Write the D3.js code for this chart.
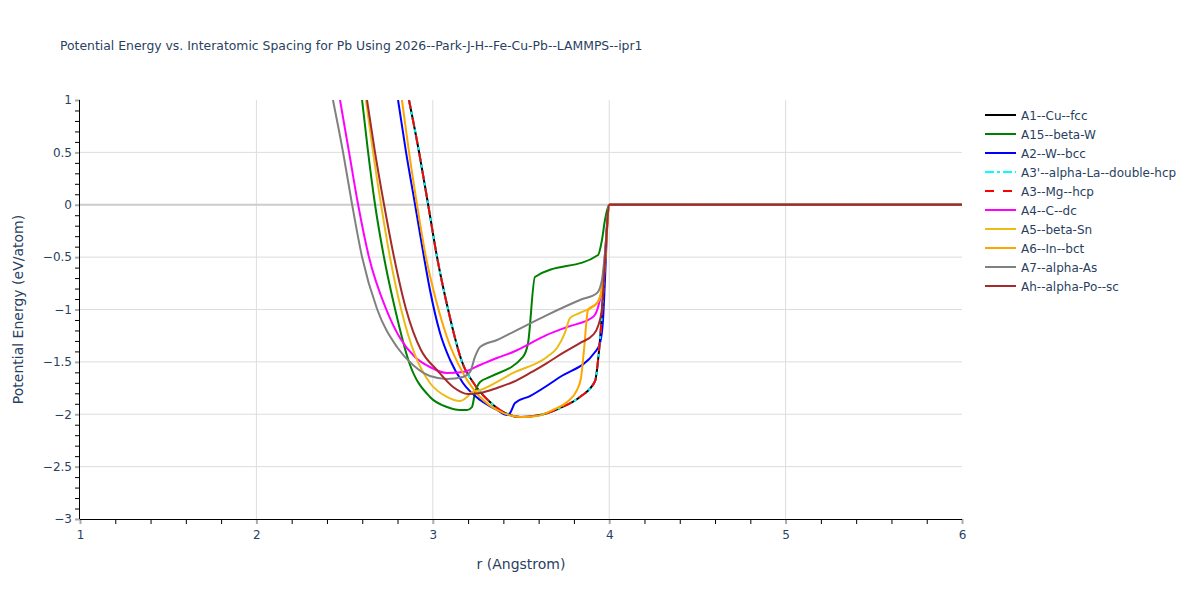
<!DOCTYPE html>
<html>
<head>
<meta charset="utf-8">
<script src="https://cdn.jsdelivr.net/npm/d3@7"></script>
<style>
  body { margin: 0; background: #fff; }
  svg { font-family: "DejaVu Sans", Verdana, sans-serif; }
</style>
</head>
<body>
<svg id="chart" width="1200" height="600"></svg>
<script>
// ---- data (r in Angstrom, E in eV/atom) ----
const seriesNames = ["A1--Cu--fcc", "A15--beta-W", "A2--W--bcc", "A3'--alpha-La--double-hcp", "A3--Mg--hcp",
  "A4--C--dc", "A5--beta-Sn", "A6--In--bct", "A7--alpha-As", "Ah--alpha-Po--sc"];
const seriesColors = ["#000000", "#008000", "#0000ff", "#00ffff", "#ff0000", "#ff00ff", "#ebbd14", "#ffa500", "#808080", "#a52a2a"];
const seriesDash = ["", "", "", "9,3,3,3", "9,9", "", "", "", "", ""];

const fccR = [2.865, 2.922, 2.973, 3.024, 3.086, 3.166, 3.239, 3.324, 3.409, 3.494, 3.608, 3.721, 3.834, 3.920, 3.937, 3.959, 3.976, 4.0, 6.0];
const fccE = [1.0, 0.504, 0.007, -0.499, -0.995, -1.501, -1.721, -1.883, -1.988, -2.026, -2.007, -1.940, -1.835, -1.683, -1.482, -1.033, -0.527, 0, 0];

const a15R = [2.599, 2.633, 2.672, 2.723, 2.786, 2.865, 2.984, 3.080, 3.154, 3.194, 3.222, 3.239, 3.268, 3.324, 3.511, 3.540, 3.579, 3.937, 3.959, 3.976, 4.0, 6.0];
const a15E = [1.0, 0.504, 0.007, -0.499, -0.995, -1.501, -1.835, -1.931, -1.959, -1.959, -1.931, -1.797, -1.692, -1.644, -1.453, -1.320, -0.690, -0.480, -0.337, -0.146, 0, 0];

const bccR = [2.803, 2.848, 2.899, 2.950, 2.984, 3.041, 3.098, 3.171, 3.268, 3.364, 3.421, 3.438, 3.466, 3.551, 3.721, 3.920, 3.948, 3.965, 3.976, 3.993, 4.0, 6.0];
const bccE = [1.0, 0.504, 0.007, -0.499, -0.814, -1.224, -1.482, -1.702, -1.864, -1.959, -2.007, -1.988, -1.893, -1.826, -1.644, -1.406, -1.320, -1.100, -0.718, -0.079, 0, 0];

const dhcpR = fccR.slice();
const dhcpE = fccE.slice();
const hcpR = fccR.slice();
const hcpE = fccE.slice();

const dcR = [2.474, 2.525, 2.576, 2.638, 2.735, 2.814, 2.899, 2.984, 3.080, 3.171, 3.268, 3.364, 3.455, 3.647, 3.761, 3.908, 3.937, 3.965, 3.982, 4.0, 6.0];
const dcE = [1.0, 0.504, 0.007, -0.499, -0.995, -1.272, -1.453, -1.549, -1.606, -1.597, -1.530, -1.463, -1.406, -1.243, -1.167, -1.072, -0.976, -0.718, -0.337, 0, 0];

const snR = [2.621, 2.661, 2.706, 2.757, 2.820, 2.899, 2.984, 3.080, 3.154, 3.194, 3.222, 3.268, 3.455, 3.647, 3.704, 3.749, 3.778, 3.834, 3.931, 3.948, 3.976, 4.0, 6.0];
const snE = [1.0, 0.504, 0.007, -0.499, -0.995, -1.434, -1.702, -1.835, -1.874, -1.835, -1.788, -1.769, -1.606, -1.453, -1.368, -1.224, -1.081, -1.033, -0.938, -0.881, -0.556, 0, 0];

const bctR = [2.825, 2.865, 2.910, 2.961, 3.018, 3.086, 3.171, 3.268, 3.364, 3.455, 3.511, 3.591, 3.681, 3.761, 3.817, 3.840, 3.857, 3.880, 3.931, 3.959, 3.976, 4.0, 6.0];
const bctE = [1.0, 0.504, 0.007, -0.499, -0.909, -1.291, -1.606, -1.835, -1.959, -2.017, -2.026, -2.017, -1.959, -1.883, -1.769, -1.654, -1.387, -1.005, -0.938, -0.814, -0.556, 0, 0];

const asR = [2.434, 2.491, 2.542, 2.599, 2.684, 2.797, 2.888, 2.984, 3.080, 3.171, 3.211, 3.239, 3.268, 3.364, 3.455, 3.647, 3.834, 3.931, 3.959, 3.976, 4.0, 6.0];
const asE = [1.0, 0.504, 0.007, -0.499, -0.995, -1.358, -1.530, -1.635, -1.663, -1.644, -1.597, -1.453, -1.358, -1.291, -1.215, -1.053, -0.909, -0.842, -0.718, -0.461, 0, 0];

const scR = [2.627, 2.672, 2.723, 2.780, 2.848, 2.933, 3.024, 3.115, 3.200, 3.268, 3.364, 3.455, 3.551, 3.647, 3.738, 3.834, 3.908, 3.937, 3.959, 3.976, 4.0, 6.0];
const scE = [1.0, 0.504, 0.007, -0.499, -0.995, -1.387, -1.578, -1.740, -1.807, -1.797, -1.749, -1.692, -1.606, -1.511, -1.415, -1.320, -1.243, -1.158, -0.986, -0.556, 0, 0];

const seriesR = [fccR, a15R, bccR, dhcpR, hcpR, dcR, snR, bctR, asR, scR];
const seriesE = [fccE, a15E, bccE, dhcpE, hcpE, dcE, snE, bctE, asE, scE];

const xTicks = [1, 2, 3, 4, 5, 6];
const yTicks = [1, 0.5, 0, -0.5, -1, -1.5, -2, -2.5, -3];

// ---- layout ----
const L = 80, R = 962, T = 100, B = 519;
const textColor = "#2a3f5f";
const svg = d3.select("#chart");

const x = d3.scaleLinear().domain([1, 6]).range([L, R]);
const y = d3.scaleLinear().domain([-3, 1]).range([B, T]);

// grid
const grid = svg.append("g");
grid.selectAll("line.vx").data(xTicks.filter(d => d > 1 && d < 6)).enter().append("line")
  .attr("x1", d => x(d)).attr("x2", d => x(d)).attr("y1", T).attr("y2", B)
  .attr("stroke", "#dddddd").attr("stroke-width", 1);
grid.selectAll("line.hy").data(yTicks.filter(d => d !== 0 && d > -3 && d < 1)).enter().append("line")
  .attr("x1", L).attr("x2", R).attr("y1", d => y(d)).attr("y2", d => y(d))
  .attr("stroke", "#dddddd").attr("stroke-width", 1);
grid.append("line").attr("x1", L).attr("x2", R).attr("y1", y(0)).attr("y2", y(0))
  .attr("stroke", "#cccccc").attr("stroke-width", 2);

// clip
svg.append("defs").append("clipPath").attr("id", "clip")
  .append("rect").attr("x", L).attr("y", T).attr("width", R - L).attr("height", B - T);

const line = d3.line().x(d => x(d[0])).y(d => y(d[1])).curve(d3.curveMonotoneX);
const plot = svg.append("g").attr("clip-path", "url(#clip)");
seriesNames.forEach((name, i) => {
  const pts = seriesR[i].map((r, j) => [r, seriesE[i][j]]);
  plot.append("path").attr("d", line(pts)).attr("fill", "none")
    .attr("stroke", seriesColors[i]).attr("stroke-width", 2)
    .attr("stroke-dasharray", seriesDash[i] || null);
});

// axes
const xMinor = d3.range(1.2, 6, 0.2).filter(v => Math.abs(v - Math.round(v)) > 1e-6);
const yMinor = d3.range(-2.9, 1, 0.1).filter(v => Math.abs(v * 2 - Math.round(v * 2)) > 1e-6);

const xAxisG = svg.append("g").attr("transform", `translate(0,${B})`);
xAxisG.call(d3.axisBottom(x).tickValues(xMinor).tickSize(5).tickFormat(""))
  .call(g => g.select(".domain").remove())
  .call(g => g.selectAll("line").attr("stroke", "#000"));
const xMajor = svg.append("g").attr("transform", `translate(0,${B})`);
xMajor.call(d3.axisBottom(x).tickValues(xTicks).tickSize(5).tickPadding(6).tickFormat(d3.format("d")))
  .call(g => g.select(".domain").remove())
  .call(g => g.selectAll("line").attr("stroke", "#aaaaaa").attr("stroke-width", 2))
  .call(g => g.selectAll("text").attr("fill", textColor).attr("font-size", 12)
    .attr("font-family", "'DejaVu Sans', sans-serif"));

const yAxisG = svg.append("g").attr("transform", `translate(${L},0)`);
yAxisG.call(d3.axisLeft(y).tickValues(yMinor).tickSize(5).tickFormat(""))
  .call(g => g.select(".domain").remove())
  .call(g => g.selectAll("line").attr("stroke", "#000"));
const fmtY = v => (v < 0 ? "\u2212" : "") + d3.format("")(Math.abs(v));
const yMajor = svg.append("g").attr("transform", `translate(${L},0)`);
yMajor.call(d3.axisLeft(y).tickValues(yTicks).tickSize(5).tickPadding(3).tickFormat(fmtY))
  .call(g => g.select(".domain").remove())
  .call(g => g.selectAll("line").attr("stroke", "#aaaaaa").attr("stroke-width", 2))
  .call(g => g.selectAll("text").attr("fill", textColor).attr("font-size", 12)
    .attr("font-family", "'DejaVu Sans', sans-serif"));

svg.append("line").attr("x1", L).attr("x2", R).attr("y1", B + 0.5).attr("y2", B + 0.5).attr("stroke", "#000");
svg.append("line").attr("x1", L - 0.5).attr("x2", L - 0.5).attr("y1", T).attr("y2", B).attr("stroke", "#000");

// titles
svg.append("text").attr("x", 60).attr("y", 50).attr("fill", textColor).attr("font-size", 12.4)
  .text("Potential Energy vs. Interatomic Spacing for Pb Using 2026--Park-J-H--Fe-Cu-Pb--LAMMPS--ipr1");
svg.append("text").attr("x", (L + R) / 2).attr("y", 569).attr("text-anchor", "middle")
  .attr("fill", textColor).attr("font-size", 14).text("r (Angstrom)");
svg.append("text").attr("transform", `translate(23,${(T + B) / 2}) rotate(-90)`).attr("text-anchor", "middle")
  .attr("fill", textColor).attr("font-size", 14).text("Potential Energy (eV/atom)");

// legend
const leg = svg.append("g").attr("transform", "translate(985,115)");
seriesNames.forEach((name, i) => {
  const g = leg.append("g").attr("transform", `translate(0,${i * 19})`);
  g.append("line").attr("x1", 0).attr("x2", 31).attr("y1", 0).attr("y2", 0)
    .attr("stroke", seriesColors[i]).attr("stroke-width", 2)
    .attr("stroke-dasharray", seriesDash[i] || null);
  g.append("text").attr("x", 36).attr("y", 4.5).attr("fill", textColor).attr("font-size", 12).text(name);
});
</script>
</body>
</html>
